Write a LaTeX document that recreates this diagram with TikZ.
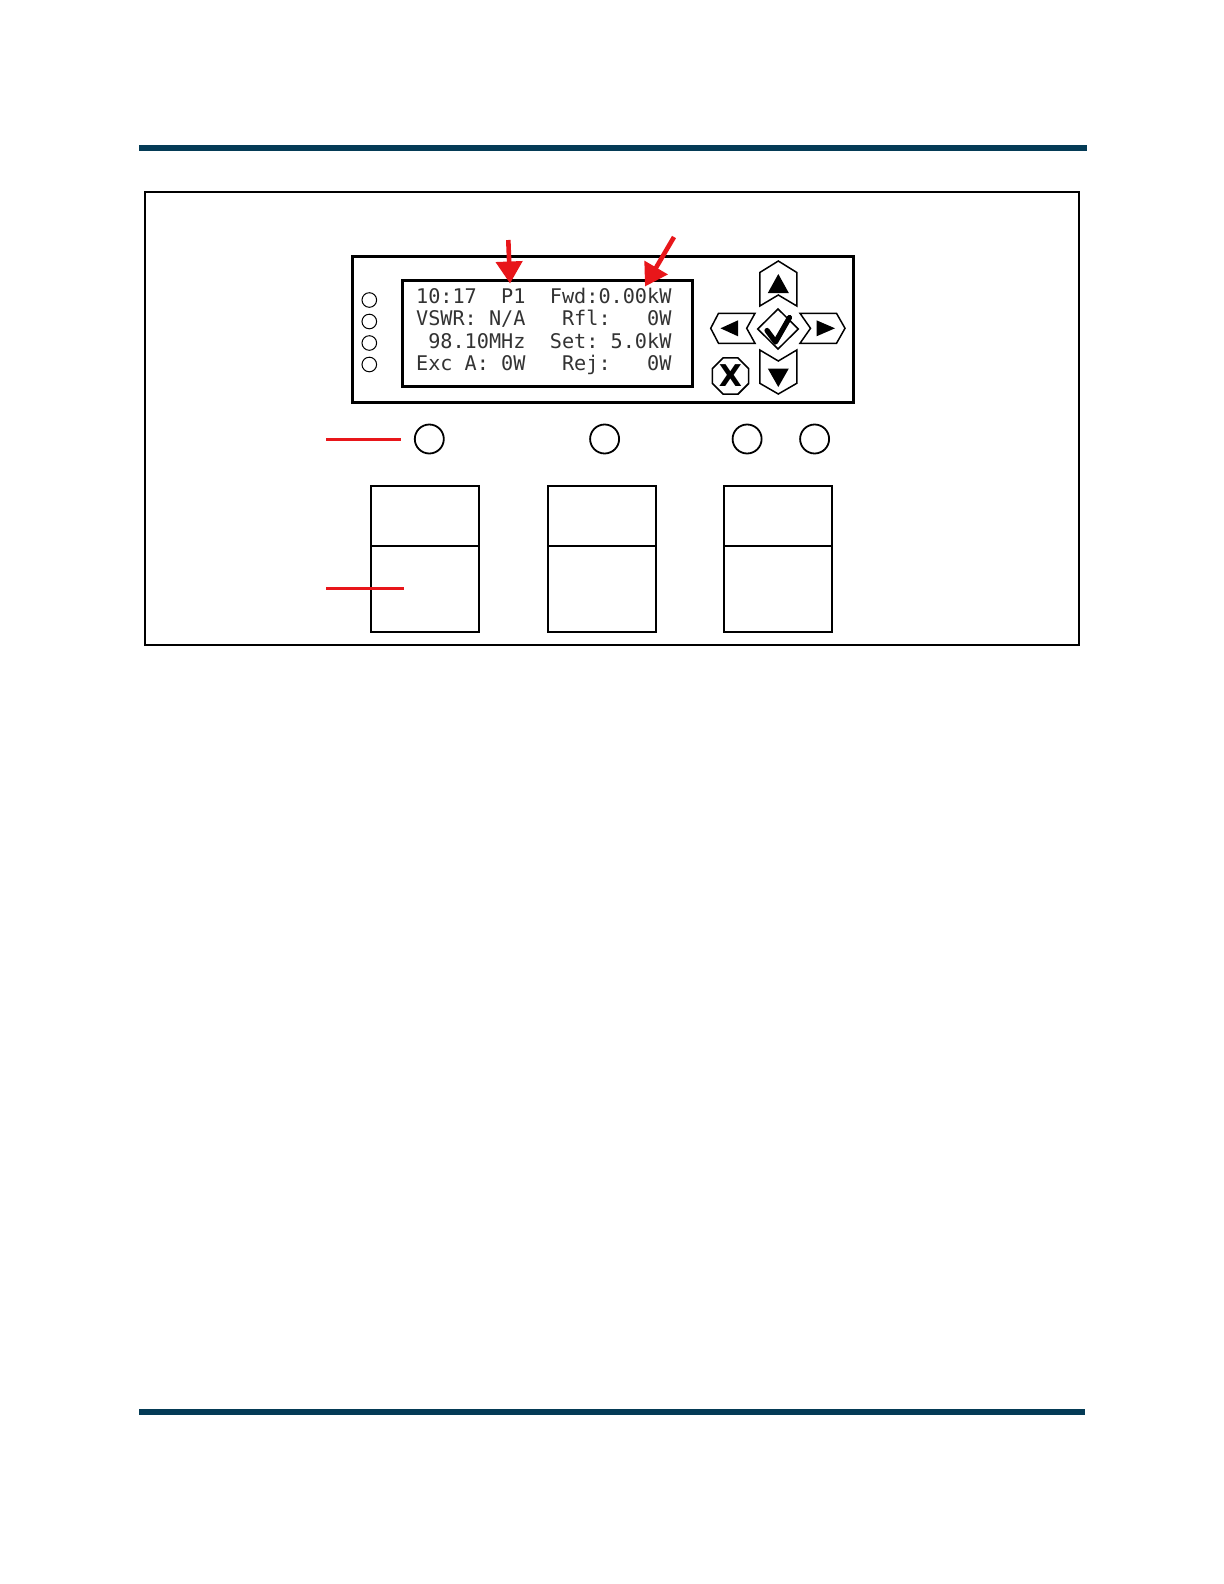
\documentclass[tikz,border=0pt]{standalone}
\usepackage{fontspec}
\newfontfamily\lcdfont{DejaVu Sans Mono}
\newfontfamily\keyfont{DejaVu Sans}
\usetikzlibrary{arrows.meta,shapes.geometric}
\definecolor{barblue}{RGB}{4,59,86}
\definecolor{callred}{RGB}{232,22,26}
\begin{document}
\begin{tikzpicture}[x=0.5pt,y=-0.5pt,
  frame/.style={draw=black,line width=1pt},
  panel/.style={draw=black,line width=1.5pt},
  led/.style={circle,draw=black,line width=0.5pt,minimum size=7.3pt,inner sep=0pt},
  knob/.style={circle,draw=black,line width=0.9pt,minimum size=14.5pt,inner sep=0pt},
  keyline/.style={draw=black,line width=0.75pt,line join=miter},
  keyfill/.style={fill=black},
  boxline/.style={draw=black,line width=1pt},
  lcdtext/.style={font=\lcdfont\fontsize{10.1}{12}\selectfont,text=black!80,anchor=base west,inner sep=0pt},
  callout/.style={draw=callred,line width=2.3pt,-{Triangle[length=11pt,width=13pt]}},
  redline/.style={draw=callred,line width=1.5pt}]
\useasboundingbox (0,0) rectangle (1224,1584);
\fill[white] (0,0) rectangle (1224,1584);
% header / footer bars
\fill[barblue] (138.5,145) rectangle (1086.5,151);
\fill[barblue] (139,1409) rectangle (1085,1415);
% outer frame
\draw[frame] (145,192.3) rectangle (1079,645);
% display panel
\draw[panel] (352.7,256.7) rectangle (853.3,402.7);
\draw[panel] (402.7,280) rectangle (692.3,386.7);
% LEDs
\node[led] (led1) at (369.3,300) {};
\node[led] (led2) at (369.3,321.5) {};
\node[led] (led3) at (369.3,343) {};
\node[led] (led4) at (369.3,364.5) {};
% LCD text
\node[lcdtext] (l1) at (415.7,303) {10:17~~P1~~Fwd:0.00kW};
\node[lcdtext] (l2) at (415.7,325.5) {VSWR:~N/A~~~Rfl:~~~0W};
\node[lcdtext] (l3) at (415.7,348) {~98.10MHz~~Set:~5.0kW};
\node[lcdtext] (l4) at (415.7,370.5) {Exc~A:~0W~~~Rej:~~~0W};
% callout arrows
\coordinate (a1s) at (508.3,240);
\coordinate (a1e) at (510,283.5);
\coordinate (a2s) at (674,237);
\coordinate (a2e) at (645,286.5);
\draw[callout] (a1s) -- (a1e);
\draw[callout] (a2s) -- (a2e);
% keypad: up
\draw[keyline] (778.3,261) -- (796.8,272.5) -- (796.8,306) -- (778.3,295) -- (759.8,306) -- (759.8,272.5) -- cycle;
\fill[keyfill] (778.3,274) -- (788.8,293) -- (767.8,293) -- cycle;
% down
\draw[keyline] (759.8,350) -- (778.3,361) -- (796.8,350) -- (796.8,383.3) -- (778.3,394) -- (759.8,383.3) -- cycle;
\fill[keyfill] (767.8,368.5) -- (788.8,368.5) -- (778.3,387) -- cycle;
% left
\draw[keyline] (710.7,328.3) -- (718.5,313.3) -- (755,313.3) -- (746.7,328.3) -- (755,343.3) -- (718.5,343.3) -- cycle;
\fill[keyfill] (720.5,328.3) -- (738,320.3) -- (738,336.3) -- cycle;
% right
\draw[keyline] (800,313.3) -- (836.5,313.3) -- (845,328.3) -- (836.5,343.3) -- (800,343.3) -- (810.5,328.3) -- cycle;
\fill[keyfill] (816.5,320.3) -- (835,328.3) -- (816.5,336.3) -- cycle;
% centre (enter)
\draw[keyline] (778,309) -- (798.3,329) -- (778,349) -- (757.7,329) -- cycle;
\draw[line width=2.6pt,line cap=round,line join=round] (767,330.5) -- (775.5,342) -- (789.5,317.5);
% cancel
\node[regular polygon,regular polygon sides=8,draw=black,line width=0.8pt,minimum size=19.6pt,inner sep=0pt] (xkey) at (730.5,376) {};
\node[font=\keyfont\bfseries\fontsize{15}{15}\selectfont,inner sep=0pt] (xlab) at (730.5,376) {X};
% knobs
\node[knob] (k1) at (429.3,439) {};
\node[knob] (k2) at (604.6,439) {};
\node[knob] (k3) at (747.1,439) {};
\node[knob] (k4) at (814.6,439) {};
% lower boxes
\draw[boxline] (370.7,486) rectangle (478.6,632.3);
\draw[boxline] (370.7,545.7) -- (478.6,545.7);
\draw[boxline] (547.9,486) rectangle (656,632.3);
\draw[boxline] (547.9,545.7) -- (656,545.7);
\draw[boxline] (724,486) rectangle (832,632.3);
\draw[boxline] (724,545.7) -- (832,545.7);
% red leader lines
\coordinate (r1s) at (326,439.3);
\coordinate (r1e) at (401,439.3);
\coordinate (r2s) at (326,588.8);
\coordinate (r2e) at (403.6,588.8);
\draw[redline] (r1s) -- (r1e);
\draw[redline] (r2s) -- (r2e);
\end{tikzpicture}
\end{document}
